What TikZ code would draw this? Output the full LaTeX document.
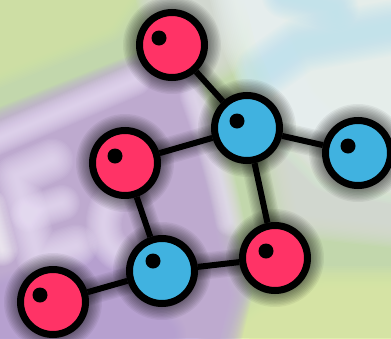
\documentclass[tikz,border=0pt]{standalone}
\usetikzlibrary{calc}

\definecolor{atomred}{RGB}{255,51,102}
\definecolor{atomblue}{RGB}{64,178,224}
\definecolor{leafgreen}{RGB}{214,231,164}
\definecolor{sagegreen}{RGB}{194,215,172}
\definecolor{mistgrey}{RGB}{218,224,216}
\definecolor{skyblue}{RGB}{188,226,236}
\definecolor{skywhite}{RGB}{238,246,246}
\definecolor{cardpurple}{RGB}{190,170,216}
\definecolor{deeppurple}{RGB}{182,160,210}
\definecolor{palelilac}{RGB}{238,228,250}
\definecolor{paleyellow}{RGB}{222,236,164}

\pgfdeclarelayer{bg}
\pgfdeclarelayer{bonds}
\pgfsetlayers{bg,bonds,main}

% a patch of colour grown outwards in thin veils, so its rim fades softly
\newcommand\softblob[3]{%
  \foreach \i in {0,...,19}{%
    \filldraw[#1, opacity=0.11, line width=\i*#2*0.105 pt, line join=round] #3;}%
}
% a soft brush stroke
\newcommand\softstroke[4]{%
  \foreach \i in {0,...,15}{%
    \draw[#1, opacity=0.08, line width=#2 pt+\i*#3 pt, line join=round, line cap=round] #4;}%
}

\tikzset{
  spot dx/.store in=\spotdx, spot dx=-10pt,
  spot dy/.store in=\spotdy, spot dy=7pt,
  atom/.style={circle, draw=black, line width=7pt, minimum size=65pt, inner sep=0pt,
    path picture={\fill[black] ([xshift=\spotdx, yshift=\spotdy]path picture bounding box.center) circle (7.5pt);}},
  redatom/.style={atom, fill=atomred},
  blueatom/.style={atom, fill=atomblue},
  bond/.style={draw=black, line width=6pt},
}

\begin{document}
\begin{tikzpicture}[x=1pt, y=-1pt]
\useasboundingbox (0,0) rectangle (391,338);

% atoms
\node[redatom, spot dx=-13pt] (r1) at (172,45) {};
\node[blueatom] (b1) at (247,128) {};
\node[blueatom] (b2) at (358,153) {};
\node[redatom] (r2) at (125,163) {};
\node[blueatom, spot dx=-9pt, spot dy=10pt] (b3) at (162,271) {};
\node[redatom, spot dx=-9pt] (r3) at (275,258) {};
\node[redatom, spot dx=-13pt] (r4) at (53,302) {};

% bonds with their soft shadows
\begin{pgfonlayer}{bonds}
  \foreach \a/\b in {r1/b1, b1/r2, b1/b2, b1/r3, r2/b3, b3/r3, b3/r4}{
    \foreach \k in {1,...,8}{
      \draw[black, opacity=0.05, line width=6pt+\k*2.6pt] (\a.center) -- (\b.center);}
  }
  \foreach \n in {r1,b1,b2,r2,b3,r3,r4}{
    \foreach \k in {1,...,10}{
      \fill[black, opacity=0.055] (\n.center) circle (35pt+\k*1.4pt);}
  }
  \foreach \a/\b in {r1/b1, b1/r2, b1/b2, b1/r3, r2/b3, b3/r3, b3/r4}{
    \draw[bond] (\a) -- (\b);}
\end{pgfonlayer}

% blurred backdrop
\begin{pgfonlayer}{bg}
  \clip (0,0) rectangle (391,338);
  \fill[sagegreen] (0,0) rectangle (391,338);
  % green upper left
  \softblob{leafgreen}{30}{(-60,-60) -- (150,-60) -- (100,15) -- (-60,80) -- cycle}
  % misty strip between green and sky
  \softblob{mistgrey}{26}{(150,-40) -- (235,-40) -- (215,55) -- (185,70) -- cycle}
  % pale sky upper right
  \softblob{skywhite}{34}{(230,-60) -- (450,-60) -- (450,180) -- (335,160) -- (285,110) -- (255,40) -- cycle}
  \softstroke{skyblue}{10}{3}{(262,72) -- (300,45) -- (391,28)}
  \softstroke{skyblue}{8}{2.6}{(285,-5) -- (335,8)}
  % grey-green right of the card
  \softblob{mistgrey}{26}{(290,160) -- (420,190) -- (420,225) -- (300,212) -- cycle}
  % yellow lower right
  \softblob{paleyellow}{34}{(225,360) -- (265,325) -- (325,300) -- (440,300) -- (440,390) -- (225,390) -- cycle}
  % the purple card
  \softblob{cardpurple}{22}{(-60,154) -- (150,71) .. controls (168,64) and (178,72) .. (182,90) -- (230,295) -- (205,400) -- (-60,400) -- cycle}
  \softblob{deeppurple}{26}{(-30,310) -- (105,270) -- (160,335) -- (-30,365) -- cycle}
  % light rim along the card
  \softstroke{palelilac}{2}{2}{(-10,142) -- (135,80)}
  \softstroke{palelilac}{2}{1.8}{(194,96) .. controls (210,140) and (222,180) .. (230,222)}
  % pale lettering on the card
  \softstroke{palelilac}{4}{2.6}{(52,160) -- (16,176) -- (38,258) -- (76,246)}
  \softstroke{palelilac}{3}{2.2}{(28,214) -- (62,203)}
  \softstroke{palelilac}{3}{2.2}{(120,192) .. controls (100,205) and (98,238) .. (116,252)}
  \softstroke{white}{2}{2}{(-10,205) -- (2,250)}
\end{pgfonlayer}
\end{tikzpicture}
\end{document}
